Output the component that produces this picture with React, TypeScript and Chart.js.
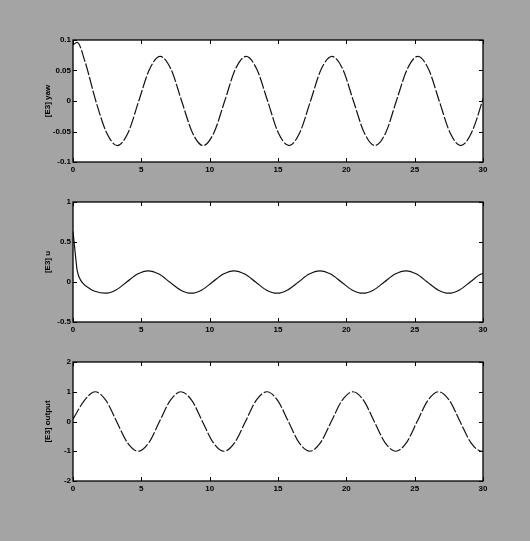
import React, { useEffect, useRef } from "react";
import { Chart, registerables } from "chart.js";

Chart.register(...registerables);

// ---- data ----
const yawTime = [0, 0.3, 0.9, 1.67, 2.46, 3.24, 4.03, 4.81, 5.6, 6.38, 7.17, 7.95, 8.74, 9.52, 10.31, 11.1, 11.88, 12.67, 13.45, 14.24, 15.02, 15.81, 16.59, 17.38, 18.16, 18.95, 19.74, 20.52, 21.31, 22.09, 22.88, 23.66, 24.45, 25.23, 26.02, 26.8, 27.59, 28.37, 29.16, 29.95, 30];
const yawValues = [0.092, 0.096, 0.063, 0, -0.052, -0.073, -0.052, 0, 0.052, 0.073, 0.052, 0, -0.052, -0.073, -0.052, 0, 0.052, 0.073, 0.052, 0, -0.052, -0.073, -0.052, 0, 0.052, 0.073, 0.052, 0, -0.052, -0.073, -0.052, 0, 0.052, 0.073, 0.052, 0, -0.052, -0.073, -0.052, 0, 0.004];

const uTime = [0, 0.2, 0.3, 0.45, 0.75, 1.2, 1.6, 2.36, 3.15, 3.93, 4.72, 5.5, 6.29, 7.07, 7.86, 8.64, 9.43, 10.21, 11.0, 11.79, 12.57, 13.36, 14.14, 14.93, 15.71, 16.5, 17.28, 18.07, 18.85, 19.64, 20.42, 21.21, 22.0, 22.78, 23.57, 24.35, 25.14, 25.92, 26.71, 27.49, 28.28, 29.06, 29.85, 30];
const uValues = [0.63, 0.3, 0.15, 0.06, -0.02, -0.08, -0.115, -0.14, -0.099, 0, 0.099, 0.14, 0.099, 0, -0.099, -0.14, -0.099, 0, 0.099, 0.14, 0.099, 0, -0.099, -0.14, -0.099, 0, 0.099, 0.14, 0.099, 0, -0.099, -0.14, -0.099, 0, 0.099, 0.14, 0.099, 0, -0.099, -0.14, -0.099, 0, 0.099, 0.104];

const outTime = [0, 0.84, 1.62, 2.41, 3.19, 3.98, 4.76, 5.55, 6.33, 7.12, 7.9, 8.69, 9.47, 10.26, 11.05, 11.83, 12.62, 13.4, 14.19, 14.97, 15.76, 16.54, 17.33, 18.11, 18.9, 19.69, 20.47, 21.26, 22.04, 22.83, 23.61, 24.4, 25.18, 25.97, 26.75, 27.54, 28.32, 29.11, 29.9, 30];
const outValues = [0.08, 0.71, 1, 0.71, 0, -0.71, -1, -0.71, 0, 0.71, 1, 0.71, 0, -0.71, -1, -0.71, 0, 0.71, 1, 0.71, 0, -0.71, -1, -0.71, 0, 0.71, 1, 0.71, 0, -0.71, -1, -0.71, 0, 0.71, 1, 0.71, 0, -0.71, -1, -0.995];

const xMin = 0;
const xMax = 30;
const xStep = 5;

const panelTitles = ["[E3] yaw", "[E3] u", "[E3] output"];
const yRanges = [
  [-0.1, 0.1, 0.05],
  [-0.5, 1, 0.5],
  [-2, 2, 1],
];

const FONT = "'Liberation Sans', Arial, sans-serif";

const fmt = (v: number | string) => String(Number(Number(v).toFixed(3)));

const boxPlugin = {
  id: "matlabBox",
  beforeDraw(chart: any) {
    const { ctx, chartArea: a } = chart;
    ctx.save();
    ctx.fillStyle = "#ffffff";
    ctx.fillRect(a.left, a.top, a.right - a.left, a.bottom - a.top);
    ctx.restore();
  },
  afterDraw(chart: any) {
    const { ctx, chartArea: a, scales } = chart;
    const L = 4;
    ctx.save();
    ctx.strokeStyle = "#000";
    ctx.lineWidth = 1.3;
    ctx.strokeRect(a.left, a.top, a.right - a.left, a.bottom - a.top);
    ctx.lineWidth = 1;
    ctx.beginPath();
    scales.x.ticks.forEach((t: any) => {
      const px = Math.round(scales.x.getPixelForValue(t.value)) + 0.5;
      ctx.moveTo(px, a.top);
      ctx.lineTo(px, a.top + L);
      ctx.moveTo(px, a.bottom);
      ctx.lineTo(px, a.bottom - L);
    });
    scales.y.ticks.forEach((t: any) => {
      const py = Math.round(scales.y.getPixelForValue(t.value)) + 0.5;
      ctx.moveTo(a.left, py);
      ctx.lineTo(a.left + L, py);
      ctx.moveTo(a.right, py);
      ctx.lineTo(a.right - L, py);
    });
    ctx.stroke();
    ctx.restore();
  },
};

type PanelProps = {
  top: number;
  height: number;
  times: number[];
  values: number[];
  title: string;
  range: number[];
  dash: number[];
};

function Panel({ top, height, times, values, title, range, dash }: PanelProps) {
  const ref = useRef<HTMLCanvasElement | null>(null);
  useEffect(() => {
    if (!ref.current) return;
    const chart = new Chart(ref.current, {
      type: "line",
      data: {
        datasets: [
          {
            data: times.map((t, i) => ({ x: t, y: values[i] })),
            borderColor: "#111",
            borderWidth: 1.2,
            borderDash: dash,
            pointRadius: 0,
            cubicInterpolationMode: "monotone",
            fill: false,
          },
        ],
      },
      options: {
        animation: false,
        responsive: false,
        maintainAspectRatio: false,
        layout: { padding: { top: 10, right: 17, left: 0, bottom: 0 } },
        plugins: { legend: { display: false }, tooltip: { enabled: false } },
        scales: {
          x: {
            type: "linear",
            min: xMin,
            max: xMax,
            grid: { display: false, drawTicks: false },
            border: { display: false },
            ticks: {
              stepSize: xStep,
              padding: 3,
              color: "#000",
              maxRotation: 0,
              font: { family: FONT, size: 8, weight: "bold" },
              callback: (v: any) => fmt(v),
            },
            afterFit: (s: any) => {
              s.height = 16;
            },
          },
          y: {
            type: "linear",
            min: range[0],
            max: range[1],
            grid: { display: false, drawTicks: false },
            border: { display: false },
            ticks: {
              stepSize: range[2],
              padding: 2,
              color: "#000",
              font: { family: FONT, size: 8, weight: "bold" },
              callback: (v: any) => fmt(v),
            },
            title: {
              display: true,
              text: title,
              color: "#000",
              padding: { top: 3, bottom: 0 },
              font: { family: FONT, size: 8, weight: "bold" },
            },
            afterFit: (s: any) => {
              s.width = 33;
            },
          },
        },
      } as any,
      plugins: [boxPlugin],
    });
    return () => chart.destroy();
  }, []);
  return (
    <div style={{ position: "absolute", left: 40, top, width: 460, height }}>
      <canvas ref={ref} width={460} height={height} style={{ width: 460, height }} />
    </div>
  );
}

export default function App() {
  return (
    <div
      style={{
        position: "fixed",
        left: 0,
        top: 0,
        width: 530,
        height: 541,
        background: "#a4a4a4",
        overflow: "hidden",
      }}
    >
      <Panel top={30} height={148} times={yawTime} values={yawValues} title={panelTitles[0]} range={yRanges[0]} dash={[12, 2]} />
      <Panel top={192} height={146} times={uTime} values={uValues} title={panelTitles[1]} range={yRanges[1]} dash={[]} />
      <Panel top={352} height={145} times={outTime} values={outValues} title={panelTitles[2]} range={yRanges[2]} dash={[12, 2]} />
    </div>
  );
}
